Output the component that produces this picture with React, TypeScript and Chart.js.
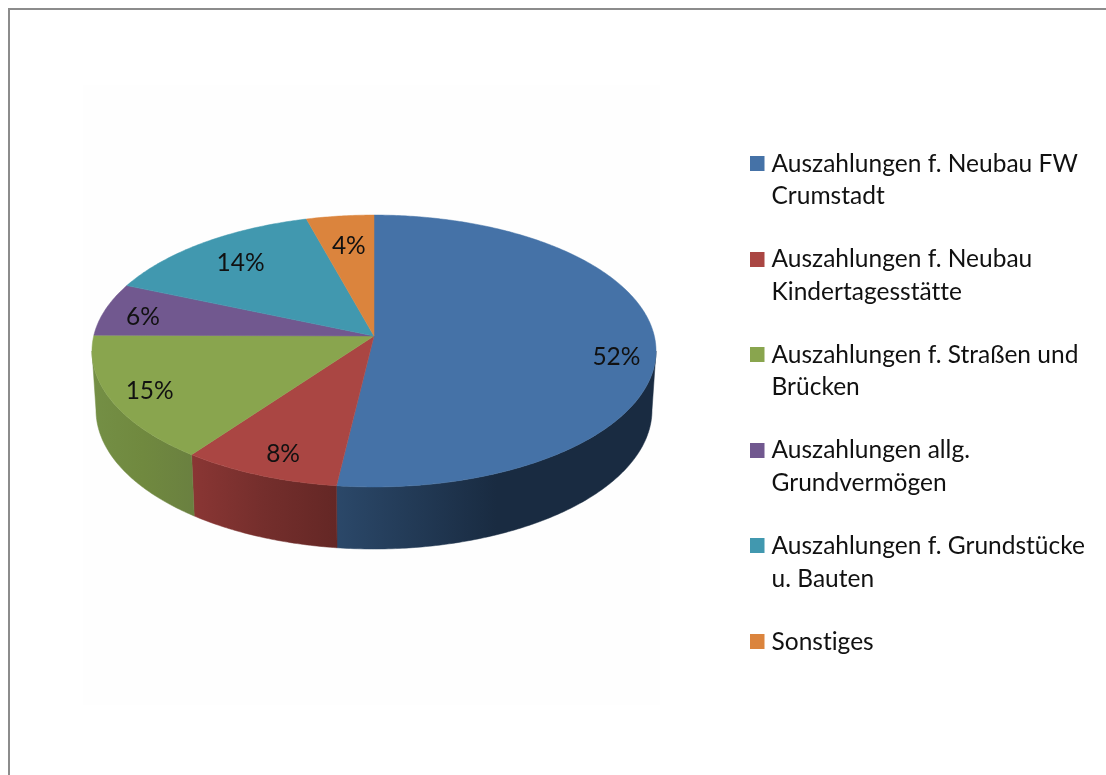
import React, { useEffect, useRef } from "react";
import { Chart, registerables } from "chart.js";

Chart.register(...registerables);

const categories = [
  ["Auszahlungen f. Neubau FW", "Crumstadt"],
  ["Auszahlungen f. Neubau", "Kindertagesstätte"],
  ["Auszahlungen f. Straßen und", "Brücken"],
  ["Auszahlungen allg.", "Grundvermögen"],
  ["Auszahlungen f. Grundstücke", "u. Bauten"],
  ["Sonstiges"],
];
const shares = [51.9, 8.2, 15.0, 6.3, 14.3, 4.3];
const percentLabels = ["52%", "8%", "15%", "6%", "14%", "4%"];
const sliceColors = ["#4572a7", "#aa4643", "#89a54e", "#71588f", "#4198af", "#db843d"];
const wallColors = [
  ["#2b4869", "#192b41", "#192b41"],
  ["#8a3634", "#742e2c", "#642725"],
  ["#748f45", "#70893f", "#6a8040"],
  ["#71588f", "#71588f", "#71588f"],
  ["#4198af", "#4198af", "#4198af"],
  ["#db843d", "#db843d", "#db843d"],
];

const FONT = 'Lato, sans-serif';
const K = 0.1103;
const project = (a: number, r = 1) => {
  const u = Math.cos(a) * r;
  const v = Math.sin(a) * r;
  const d = 1 - K * v;
  return { x: 374 + (280.3 * u) / d, y: 336 + (134.3 * v) / d };
};
const projectBase = (a: number) => {
  const u = Math.cos(a);
  const v = Math.sin(a);
  const d = 1 - K * v;
  return { x: 374 + (276.3 * u) / d, y: 394.7 + (137.3 * v) / d };
};

const labelPlace = [
  { r: 0.865, dx: -1, dy: 14 },
  { r: 0.8, dx: -1, dy: 9 },
  { r: 0.85, dx: -2, dy: 2 },
  { r: 0.85, dx: -2, dy: 4 },
  { r: 0.75, dx: -3, dy: -2 },
  { r: 0.75, dx: 1, dy: 2 },
];

const pie3d = {
  id: "pie3d",
  beforeDraw(chart: any) {
    const { ctx, width, height } = chart;
    ctx.save();
    ctx.fillStyle = "#ffffff";
    ctx.fillRect(0, 0, width, height);
    ctx.fillStyle = "#fefefe";
    ctx.fillRect(83, 85, 577, 620);
    ctx.fillStyle = "#8c8c8c";
    ctx.fillRect(8, 8, width - 8, 2);
    ctx.fillRect(8, 8, 2, height - 8);
    ctx.restore();
  },
  beforeDatasetsDraw(chart: any) {
    const { ctx } = chart;
    const arcs = chart.getDatasetMeta(0).data;
    const edge = Math.asin(K);
    ctx.save();

    // side wall, front half of the disc only
    arcs.forEach((arc: any, i: number) => {
      const lo = Math.max(arc.startAngle, edge);
      const hi = Math.min(arc.endAngle, Math.PI - edge);
      if (hi <= lo) return;
      const n = Math.max(2, Math.ceil((hi - lo) * 90));
      const top: any[] = [];
      const base: any[] = [];
      for (let s = 0; s <= n; s++) {
        const a = lo + ((hi - lo) * s) / n;
        top.push(project(a));
        base.push(projectBase(a));
      }
      const xs = top.concat(base).map((p) => p.x);
      const g = ctx.createLinearGradient(Math.min(...xs), 0, Math.max(...xs), 0);
      g.addColorStop(0, wallColors[i][0]);
      g.addColorStop(0.5, wallColors[i][1]);
      g.addColorStop(1, wallColors[i][2]);
      ctx.beginPath();
      top.forEach((p, j) => (j ? ctx.lineTo(p.x, p.y) : ctx.moveTo(p.x, p.y)));
      base.reverse().forEach((p) => ctx.lineTo(p.x, p.y));
      ctx.closePath();
      ctx.fillStyle = g;
      ctx.strokeStyle = g;
      ctx.lineWidth = 0.5;
      ctx.fill();
      ctx.stroke();
    });

    // top face
    arcs.forEach((arc: any) => {
      const n = Math.max(2, Math.ceil((arc.endAngle - arc.startAngle) * 90));
      ctx.beginPath();
      ctx.moveTo(374, 336);
      for (let s = 0; s <= n; s++) {
        const p = project(arc.startAngle + ((arc.endAngle - arc.startAngle) * s) / n);
        ctx.lineTo(p.x, p.y);
      }
      ctx.closePath();
      ctx.fillStyle = arc.options.backgroundColor;
      ctx.strokeStyle = arc.options.backgroundColor;
      ctx.lineWidth = 0.5;
      ctx.fill();
      ctx.stroke();
    });

    // percent labels
    ctx.fillStyle = "#111111";
    ctx.font = `24.5px ${FONT}`;
    ctx.textAlign = "center";
    ctx.textBaseline = "middle";
    arcs.forEach((arc: any, i: number) => {
      const mid = (arc.startAngle + arc.endAngle) / 2;
      const place = labelPlace[i];
      const p = project(mid, place.r);
      ctx.fillText(percentLabels[i], p.x + place.dx, p.y + place.dy);
    });

    // legend
    ctx.textAlign = "left";
    ctx.textBaseline = "alphabetic";
    ctx.font = `24.5px ${FONT}`;
    ctx.letterSpacing = "0.01px";
    categories.forEach((lines, i) => {
      const baseline = 171 + i * 95.6;
      ctx.fillStyle = sliceColors[i];
      ctx.fillRect(750, Math.round(baseline) - 15, 14.5, 15);
      ctx.fillStyle = "#111111";
      lines.forEach((line, j) => ctx.fillText(line, 771.5, baseline + 0.6 + j * 32.5));
    });

    ctx.restore();
    return false;
  },
};

export default function App() {
  const ref = useRef<HTMLCanvasElement>(null);
  useEffect(() => {
    const chart = new Chart(ref.current!, {
      type: "pie",
      data: {
        labels: categories,
        datasets: [{ data: shares, backgroundColor: sliceColors, borderWidth: 0 }],
      },
      options: {
        responsive: false,
        animation: false,
        plugins: { legend: { display: false }, tooltip: { enabled: false } },
      },
      plugins: [pie3d],
    });
    return () => chart.destroy();
  }, []);
  return (
    <canvas
      ref={ref}
      width={1106}
      height={775}
      style={{ position: "fixed", left: 0, top: 0, width: 1106, height: 775 }}
    />
  );
}
